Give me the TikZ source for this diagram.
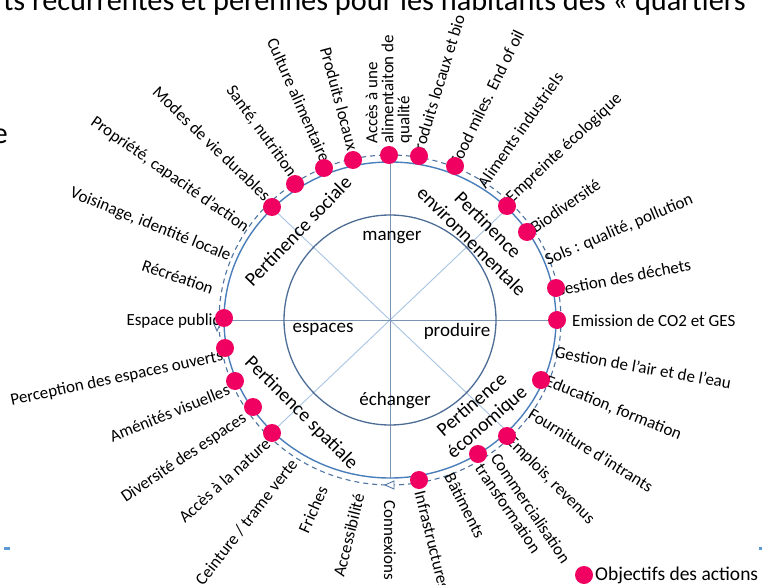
\documentclass[tikz,border=0pt]{standalone}
\usepackage{fontspec}
\setmainfont{Carlito}
\definecolor{pinkdot}{HTML}{F00060}
\definecolor{outercol}{HTML}{4A7EBB}
\definecolor{innercol}{HTML}{4D6D96}
\definecolor{dashcol}{HTML}{4F73A0}
\definecolor{hvcol}{HTML}{7C94B4}
\definecolor{diagcol}{HTML}{A8C4E2}
\definecolor{markcol}{HTML}{5B9BD5}
\begin{document}
\begin{tikzpicture}[x=1pt,y=-1pt,
  lbl/.style={inner sep=0pt, font=\fontsize{17}{16}\selectfont, text=black},
  lblE/.style={lbl, anchor=east},
  lblW/.style={lbl, anchor=west},
  dot/.style={circle, fill=pinkdot, inner sep=0pt, minimum size=18pt},
  innerlbl/.style={inner sep=0pt, font=\fontsize{19}{20}\selectfont},
  pert/.style={inner sep=0pt, font=\fontsize{19.5}{23}\selectfont, align=center},
  arrowtri/.style={draw=dashcol, line width=0.9pt, fill=white},
  hvline/.style={draw=hvcol, line width=0.9pt},
  diagline/.style={draw=diagcol, line width=0.9pt}]
\useasboundingbox (0,0) rectangle (762,585);
\clip (0,0) rectangle (762,585);
\fill[white] (0,0) rectangle (762,585);

% slide fragments
\node[inner sep=0pt, anchor=base east, font=\fontsize{30.3}{32}\selectfont] (title) at (746,11) {ts récurrentes et pérennes pour les habitants des « quartiers};
\node[inner sep=0pt, anchor=base east, font=\fontsize{30}{32}\selectfont] (eletter) at (8,143.5) {e};
\fill[markcol] (4,547) rectangle (10,550);
\fill[markcol] (759,547) rectangle (762,550);

% geometry
\coordinate (c) at (390,320);
\coordinate (sW) at (224,320);
\coordinate (sE) at (556,320);
\coordinate (sN) at (390,162);
\coordinate (sS) at (390,478);
\coordinate (sNW) at (272.6,208.3);
\coordinate (sSE) at (507.4,431.7);
\coordinate (sNE) at (507.4,208.3);
\coordinate (sSW) at (272.6,431.7);

\draw[diagline] (sNW) -- (sSE);
\draw[diagline] (sNE) -- (sSW);
\draw[hvline] (sW) -- (sE);
\draw[hvline] (sN) -- (sS);

\draw[innercol, line width=1.3pt] (c) ellipse [x radius=106pt, y radius=105pt];
\draw[outercol, line width=1.4pt] (c) ellipse [x radius=166pt, y radius=158pt];
\draw[dashcol, line width=1.1pt, dash pattern=on 5pt off 4pt] (c) ellipse [x radius=171pt, y radius=165pt];

% arrowheads on dashed circle
\coordinate (tipL) at (217,331);
\coordinate (tipB) at (385,485);
\path[arrowtri] (tipL) -- (213.5,323) -- (220.5,323) -- cycle;
\path[arrowtri] (tipB) -- (394,481) -- (394,489) -- cycle;

% inner labels
\node[innerlbl] (manger) at (392,238) {manger};
\node[innerlbl] (espaces) at (323,329) {espaces};
\node[innerlbl] (produire) at (457,331) {produire};
\node[innerlbl] (echanger) at (395,401) {échanger};

\node[pert, rotate=46] (psoc) at (298,231) {Pertinence sociale};
\node[pert, rotate=-45] (penv) at (480,233) {Pertinence\\environnementale};
\node[pert, rotate=-45] (pspa) at (301,413) {Pertinence spatiale};
\node[pert, rotate=41] (peco) at (480,414) {Pertinence\\économique};

% labels, left side
\node[lblE, rotate=-44] (l1) at (268,198) {Modes de vie durables};
\node[lblE, rotate=-54] (l2) at (293,175) {Santé, nutrition};
\node[lblE, rotate=-66] (l3) at (326,161) {Culture alimentaire};
\node[lblE, rotate=-75] (l4) at (353,150) {Produits locaux};
\node[lblE, rotate=-35] (l5) at (247,229) {Propriété, capacité d’action};
\node[lblE, rotate=-22] (l6) at (230,257) {Voisinage, identité locale};
\node[lblE, rotate=-19] (l7) at (213,289) {Récréation};
\node[lblE] (l8) at (220,321) {Espace public};
\node[lblE, rotate=12] (l9) at (223,356) {Perception des espaces ouverts};
\node[lblE, rotate=22] (l10) at (229,389) {Aménités visuelles};
\node[lblE, rotate=34] (l11) at (245,417) {Diversité des espaces};
\node[lblE, rotate=42] (l12) at (268,441) {Accès à la nature};
\node[lblE, rotate=52] (l13) at (294,461) {Ceinture / trame verte};
\node[lblE, rotate=66] (l14) at (323,487) {Friches};
\node[lblE, rotate=76] (l15) at (359,494) {Accessibilité};

% labels, right side
\node[lblW, rotate=90, align=left] (l16) at (389,144) {Accès à une\\alimentaiton de\\qualité};
\node[lblW, rotate=73] (l17) at (416,158) {Produits locaux et bio};
\node[lblW, rotate=64] (l18) at (454,165) {Food miles. End of oil};
\node[lblW, rotate=55] (l19) at (481,186) {Aliments industriels};
\node[lblW, rotate=43] (l20) at (509,200) {Empreinte écologique};
\node[lblW, rotate=35] (l21) at (532,229) {Biodiversité};
\node[lblW, rotate=23] (l22) at (546,261) {Sols : qualité, pollution};
\node[lblW, rotate=11] (l23) at (554,291) {Gestion des déchets};
\node[lblW] (l24) at (572,321) {Emission de CO2 et GES};
\node[lblW, rotate=-10] (l25) at (555,352) {Gestion de l’air et de l’eau};
\node[lblW, rotate=-22] (l26) at (546,381) {Education, formation};
\node[lblW, rotate=-32] (l27) at (530,412) {Fourniture d’intrants};
\node[lblW, rotate=-45] (l28) at (509,439) {Emplois, revenus};
\node[lblW, rotate=-56, align=left, font=\fontsize{17}{19}\selectfont] (l29) at (487,460) {Commercialisation\\transformation};
\node[lblW, rotate=-63] (l30) at (449,474) {Bâtiments};
\node[lblW, rotate=-76] (l31) at (420,491) {Infrastructures};
\node[lblW, rotate=-90] (l32) at (390,500) {Connexions};

% dots
\node[dot] (d1) at (324,168) {};
\node[dot] (d2) at (353,160) {};
\node[dot] (d3) at (389,155) {};
\node[dot] (d4) at (419,156) {};
\node[dot] (d5) at (455,166) {};
\node[dot] (d6) at (507,206) {};
\node[dot] (d7) at (527,232) {};
\node[dot] (d8) at (556,288) {};
\node[dot] (d9) at (557,320) {};
\node[dot] (d10) at (541,380) {};
\node[dot] (d11) at (507,436) {};
\node[dot] (d12) at (478,454) {};
\node[dot] (d13) at (419,480) {};
\node[dot] (d14) at (272,433) {};
\node[dot] (d15) at (253,407) {};
\node[dot] (d16) at (235,381) {};
\node[dot] (d17) at (225,348) {};
\node[dot] (d18) at (224,318) {};
\node[dot] (d19) at (272,207) {};
\node[dot] (d20) at (295,184) {};

% legend
\node[dot] (legdot) at (584,575) {};
\node[inner sep=0pt, anchor=west, font=\fontsize{19.5}{21}\selectfont] (legtxt) at (595,575) {Objectifs des actions};
\end{tikzpicture}
\end{document}
